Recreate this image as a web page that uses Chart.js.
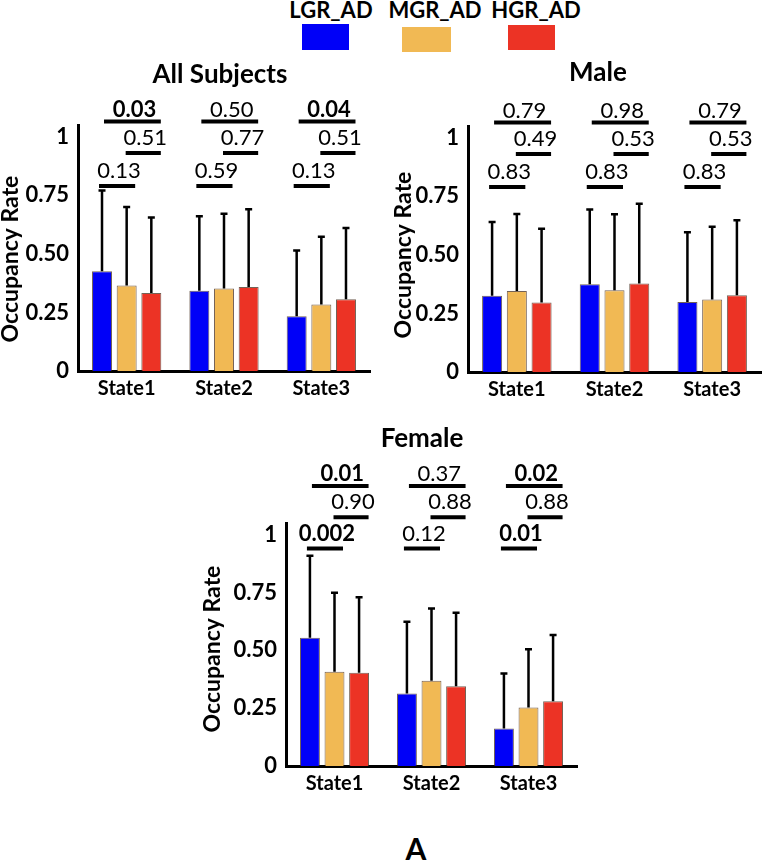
<!DOCTYPE html>
<html>
<head>
<meta charset="utf-8">
<script src="https://cdn.jsdelivr.net/npm/chart.js@4.4.0/dist/chart.umd.min.js"></script>
<style>
  body { margin: 0; background: #fff; font-family: Lato, sans-serif; }
  #wrap { position: relative; width: 762px; height: 861px; overflow: hidden; }
  canvas { position: absolute; }
  .legLabel { position: absolute; width: 120px; text-align: center; font-weight: bold; font-size: 22px; line-height: 22px; top: -1px; color: #000; }
  .legBox { position: absolute; }
  #panelLetter { position: absolute; left: 366px; width: 100px; top: 833px; text-align: center; font-weight: bold; font-size: 30px; line-height: 30px; }
</style>
</head>
<body>
<div id="wrap">
  <div id="legend"></div>
  <canvas id="allChart"></canvas>
  <canvas id="maleChart"></canvas>
  <canvas id="femaleChart"></canvas>
  <div id="panelLetter">A</div>
</div>
<script>
const states = ["State1", "State2", "State3"];
const groups = ["LGR_AD", "MGR_AD", "HGR_AD"];
const groupColors = ["#0000f8", "#f1b954", "#ec3325"];

const yTickValues = [0, 0.25, 0.5, 0.75, 1];
const yTickLabels = ["0", "0.25", "0.50", "0.75", "1"];

// all subjects: mean occupancy rate and SD per state
const allLgr = [0.426, 0.342, 0.234];
const allMgr = [0.365, 0.352, 0.284];
const allHgr = [0.333, 0.359, 0.306];
const allLgrSd = [0.344, 0.319, 0.280];
const allMgrSd = [0.335, 0.319, 0.289];
const allHgrSd = [0.322, 0.331, 0.304];
// p values per state: LGR vs MGR, MGR vs HGR, LGR vs HGR
const allPLowMid = ["0.13", "0.59", "0.13"];
const allPMidHigh = ["0.51", "0.77", "0.51"];
const allPLowHigh = ["0.03", "0.50", "0.04"];

// male
const maleLgr = [0.325, 0.375, 0.299];
const maleMgr = [0.346, 0.349, 0.309];
const maleHgr = [0.297, 0.378, 0.328];
const maleLgrSd = [0.315, 0.319, 0.297];
const maleMgrSd = [0.328, 0.324, 0.311];
const maleHgrSd = [0.314, 0.340, 0.320];
const malePLowMid = ["0.83", "0.83", "0.83"];
const malePMidHigh = ["0.49", "0.53", "0.53"];
const malePLowHigh = ["0.79", "0.98", "0.79"];

// female
const femaleLgr = [0.554, 0.313, 0.162];
const femaleMgr = [0.407, 0.368, 0.253];
const femaleHgr = [0.403, 0.345, 0.280];
const femaleLgrSd = [0.354, 0.310, 0.238];
const femaleMgrSd = [0.342, 0.313, 0.251];
const femaleHgrSd = [0.326, 0.317, 0.286];
const femalePLowMid = ["0.002", "0.12", "0.01"];
const femalePMidHigh = ["0.90", "0.88", "0.88"];
const femalePLowHigh = ["0.01", "0.37", "0.02"];

// legend (label above a colour block)
const legendSpots = [
  { cx: 331, box: [302, 24, 47, 26] },
  { cx: 435, box: [402, 27, 49, 25] },
  { cx: 536, box: [508, 25, 47, 25] },
];
const legend = document.getElementById("legend");
groups.forEach((g, i) => {
  const lab = document.createElement("div");
  lab.className = "legLabel";
  lab.style.left = (legendSpots[i].cx - 60) + "px";
  lab.textContent = g;
  legend.appendChild(lab);
  const b = legendSpots[i].box;
  const box = document.createElement("div");
  box.className = "legBox";
  box.style.cssText = `left:${b[0]}px;top:${b[1]}px;width:${b[2]}px;height:${b[3]}px;background:${groupColors[i]}`;
  legend.appendChild(box);
});

const errorBars = {
  id: "errorBars",
  afterDatasetsDraw(chart) {
    const ctx = chart.ctx, y = chart.scales.y;
    ctx.save();
    ctx.strokeStyle = "#000";
    ctx.lineWidth = 2.5;
    chart.data.datasets.forEach((ds, i) => {
      chart.getDatasetMeta(i).data.forEach((bar, j) => {
        const top = y.getPixelForValue(ds.data[j] + ds.sd[j]);
        ctx.beginPath();
        ctx.moveTo(bar.x, bar.y);
        ctx.lineTo(bar.x, top);
        ctx.moveTo(bar.x - 3.5, top);
        ctx.lineTo(bar.x + 3.5, top);
        ctx.stroke();
      });
    });
    ctx.restore();
  },
};

const sigBrackets = {
  id: "sigBrackets",
  afterDraw(chart, args, opts) {
    const ctx = chart.ctx, y = chart.scales.y;
    const pairs = [[0, 1, opts.lowMid], [1, 2, opts.midHigh], [0, 2, opts.lowHigh]];
    const ends = [[-3, 8.5], [-1, 9.5], [2, 9.5]];
    const lift = [7.5, 8, 4.5];
    ctx.save();
    ctx.strokeStyle = "#000";
    ctx.fillStyle = "#000";
    ctx.lineWidth = 4;
    ctx.textAlign = "center";
    ctx.textBaseline = "alphabetic";
    states.forEach((s, j) => {
      pairs.forEach(([a, b, ps], r) => {
        const xa = chart.getDatasetMeta(a).data[j].x + ends[r][0];
        const xb = chart.getDatasetMeta(b).data[j].x + ends[r][1];
        const yy = y.getPixelForValue(opts.rows[r]);
        ctx.beginPath();
        ctx.moveTo(xa, yy);
        ctx.lineTo(xb, yy);
        ctx.stroke();
        const p = ps[j];
        ctx.font = (parseFloat(p) < 0.05 ? "bold " : "") + "22px Lato";
        ctx.fillText(p, (xa + xb) / 2 + 2, yy - lift[r]);
      });
    });
    ctx.restore();
  },
};

const panelText = {
  id: "panelText",
  afterDraw(chart, args, opts) {
    const ctx = chart.ctx;
    ctx.save();
    ctx.fillStyle = "#000";
    ctx.textAlign = "center";
    ctx.textBaseline = "middle";
    ctx.font = "bold 26px Lato";
    ctx.fillText(opts.title, opts.titleX, opts.titleY);
    ctx.translate(opts.yTitleX, opts.yTitleY);
    ctx.rotate(-Math.PI / 2);
    ctx.font = "bold 23px Lato";
    ctx.fillText("Occupancy Rate", 0, 0);
    ctx.restore();
  },
};

function makePanel(id, cfg) {
  const canvas = document.getElementById(id);
  canvas.width = cfg.w;
  canvas.height = cfg.areaBottom - cfg.y + cfg.xAxisH;
  canvas.style.left = cfg.x + "px";
  canvas.style.top = cfg.y + "px";

  new Chart(canvas, {
    type: "bar",
    data: {
      labels: states,
      datasets: cfg.means.map((m, i) => ({
        label: groups[i],
        data: m,
        sd: cfg.sds[i],
        backgroundColor: groupColors[i],
        borderColor: "rgba(70,45,30,0.75)",
        borderWidth: 1,
        categoryPercentage: 0.76,
        barPercentage: 0.81,
      })),
    },
    options: {
      responsive: false,
      animation: false,
      layout: {
        padding: { top: cfg.areaTop - cfg.y, right: cfg.x + cfg.w - cfg.areaRight, left: 0, bottom: 0 },
      },
      plugins: {
        legend: { display: false },
        tooltip: { enabled: false },
        title: { display: false },
        sigBrackets: { lowMid: cfg.p[0], midHigh: cfg.p[1], lowHigh: cfg.p[2], rows: cfg.rows },
        panelText: cfg.text,
      },
      scales: {
        x: {
          grid: { display: false, drawTicks: false },
          border: { display: true, color: "#000", width: 3 },
          ticks: { color: "#000", font: { family: "Lato", weight: "bold", size: 20 }, padding: 6 },
          afterFit: (s) => { s.height = cfg.xAxisH; },
        },
        y: {
          min: 0,
          max: 1.05,
          grid: { display: false, drawTicks: false },
          border: { display: true, color: "#000", width: 3 },
          afterBuildTicks: (s) => { s.ticks = yTickValues.map((v) => ({ value: v })); },
          ticks: {
            color: "#000",
            font: { family: "Lato", weight: "bold", size: 22 },
            padding: 9,
            callback: (v, i) => yTickLabels[i],
          },
          afterFit: (s) => { s.width = cfg.yAxisW; },
        },
      },
    },
    plugins: [errorBars, sigBrackets, panelText],
  });
}

makePanel("allChart", {
  x: 0, y: 40, w: 380, yAxisW: 78, areaTop: 125, areaBottom: 371, areaRight: 370, xAxisH: 39,
  means: [allLgr, allMgr, allHgr],
  sds: [allLgrSd, allMgrSd, allHgrSd],
  p: [allPLowMid, allPMidHigh, allPLowHigh],
  rows: [0.79, 0.93, 1.065],
  text: { title: "All Subjects", titleX: 220, titleY: 35, yTitleX: 11, yTitleY: 219 },
});

makePanel("maleChart", {
  x: 390, y: 40, w: 372, yAxisW: 78, areaTop: 126, areaBottom: 372, areaRight: 761, xAxisH: 39,
  means: [maleLgr, maleMgr, maleHgr],
  sds: [maleLgrSd, maleMgrSd, maleHgrSd],
  p: [malePLowMid, malePMidHigh, malePLowHigh],
  rows: [0.79, 0.93, 1.065],
  text: { title: "Male", titleX: 208, titleY: 33, yTitleX: 14, yTitleY: 215 },
});

makePanel("femaleChart", {
  x: 190, y: 420, w: 398, yAxisW: 96, areaTop: 523, areaBottom: 766, areaRight: 577, xAxisH: 40,
  means: [femaleLgr, femaleMgr, femaleHgr],
  sds: [femaleLgrSd, femaleMgrSd, femaleHgrSd],
  p: [femalePLowMid, femalePMidHigh, femalePLowHigh],
  rows: [0.94, 1.075, 1.21],
  text: { title: "Female", titleX: 232, titleY: 19, yTitleX: 23, yTitleY: 229 },
});
</script>
</body>
</html>
